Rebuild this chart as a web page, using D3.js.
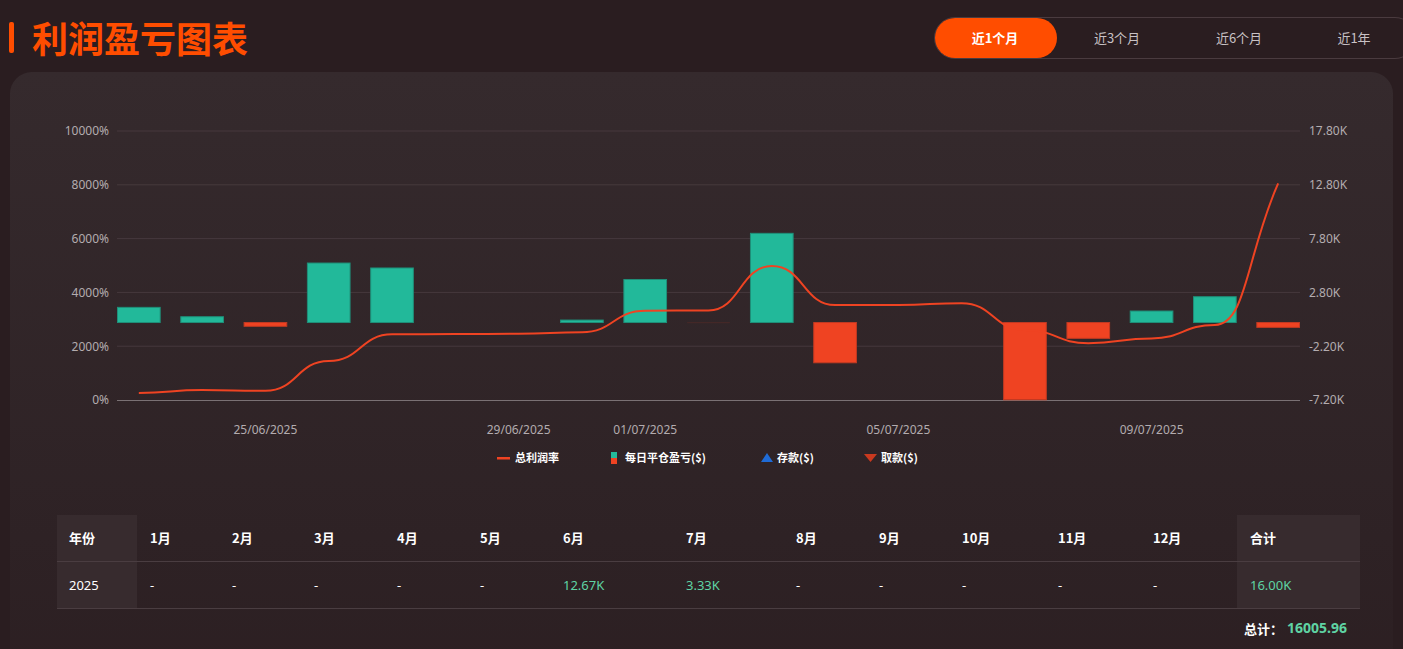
<!DOCTYPE html>
<html>
<head>
<meta charset="utf-8">
<script src="https://cdn.jsdelivr.net/npm/d3@7/dist/d3.min.js"></script>
<style>
  html, body { margin: 0; padding: 0; }
  body {
    width: 1403px; height: 649px; overflow: hidden; position: relative;
    background: #2a1d20;
    font-family: "Noto Sans", "Noto Sans CJK SC", sans-serif;
  }
  .card {
    position: absolute; left: 10px; top: 72px; width: 1383px; height: 620px;
    border-radius: 22px;
    background: linear-gradient(#352a2d, #2e2225 75%, #2c1f22);
  }
  .abs { position: absolute; white-space: nowrap; }
  #chart { position: absolute; left: 0; top: 0; }
</style>
</head>
<body>
<div class="card"></div>
<div id="page"></div>
<svg id="chart" width="1403" height="649"></svg>
<script>
// ---- data ----
const dates = ["23/06/2025", "24/06/2025", "25/06/2025", "26/06/2025", "27/06/2025", "28/06/2025",
  "29/06/2025", "30/06/2025", "01/07/2025", "02/07/2025", "03/07/2025", "04/07/2025", "05/07/2025",
  "06/07/2025", "07/07/2025", "08/07/2025", "09/07/2025", "10/07/2025", "11/07/2025"];
const profitRate = [260, 370, 340, 1450, 2440, 2450, 2460, 2520, 3320, 3330, 4980, 3530, 3530, 3600,
  2600, 2110, 2290, 2790, 8050];
const dailyPnl = [1410, 540, -350, 5530, 5070, 0, 0, 230, 4000, -10, 8290, -3740, 0, 0,
  -7180, -1470, 1070, 2400, -450];
const xTickLabels = ["25/06/2025", "29/06/2025", "01/07/2025", "05/07/2025", "09/07/2025"];
const leftTicks = [0, 2000, 4000, 6000, 8000, 10000];
const rightTicks = [-7200, -2200, 2800, 7800, 12800, 17800];
const legendItems = ["总利润率", "每日平仓盈亏($)", "存款($)", "取款($)"];
const tabs = ["近1个月", "近3个月", "近6个月", "近1年"];
const tableHead = ["年份", "1月", "2月", "3月", "4月", "5月", "6月", "7月", "8月", "9月", "10月", "11月", "12月", "合计"];
const tableRow = ["2025", "-", "-", "-", "-", "-", "12.67K", "3.33K", "-", "-", "-", "-", "-", "16.00K"];
const grandTotal = "16005.96";

const GREEN = "#22b99a", RED = "#ef4322", ORANGE = "#ff4d00";
const page = d3.select("#page");

// ---- title ----
page.append("div").attr("class", "abs")
  .style("left", "9px").style("top", "22px").style("width", "5px").style("height", "31px")
  .style("border-radius", "2px").style("background", ORANGE);
page.append("div").attr("class", "abs")
  .style("left", "32px").style("top", "11px")
  .style("font", "bold 36px 'Noto Sans CJK SC'").style("color", ORANGE)
  .text("利润盈亏图表");

// ---- tabs ----
page.append("div").attr("class", "abs")
  .style("left", "934px").style("top", "17px").style("width", "480px").style("height", "40px")
  .style("border", "1px solid #4a3b3f").style("border-radius", "21px");
page.append("div").attr("class", "abs")
  .style("left", "935px").style("top", "18px").style("width", "122px").style("height", "40px")
  .style("border-radius", "20px").style("background", ORANGE);
const tabX = [995, 1117, 1239, 1354];
tabs.forEach((t, i) => {
  page.append("div").attr("class", "abs")
    .style("left", (tabX[i] - 50) + "px").style("width", "100px").style("top", "28px")
    .style("text-align", "center")
    .style("font", (i === 0 ? "bold " : "") + "13px 'Noto Sans CJK SC'")
    .style("color", i === 0 ? "#ffffff" : "#c9c2c5")
    .text(t);
});

// ---- chart ----
const svg = d3.select("#chart");
const x0 = 117, x1 = 1300, yTop = 131, yBot = 400;
const x = d3.scaleBand().domain(dates).range([x0, x1]).paddingInner(0.31).paddingOuter(0);
const yL = d3.scaleLinear().domain([0, 10000]).range([yBot, yTop]);
const yR = d3.scaleLinear().domain([-7200, 17800]).range([yBot, yTop]);

// grid
svg.append("g").selectAll("line").data(leftTicks.slice(1)).join("line")
  .attr("x1", x0).attr("x2", x1).attr("y1", d => yL(d)).attr("y2", d => yL(d))
  .attr("stroke", "#46393d").attr("stroke-width", 1);

// left axis
const axL = svg.append("g").attr("transform", `translate(${x0},0)`)
  .call(d3.axisLeft(yL).tickValues(leftTicks).tickSize(0).tickPadding(8).tickFormat(d => d + "%"));
axL.select(".domain").remove();
// right axis
const axR = svg.append("g").attr("transform", `translate(${x1},0)`)
  .call(d3.axisRight(yR).tickValues(rightTicks).tickSize(0).tickPadding(9)
    .tickFormat(d => (d / 1000).toFixed(2) + "K"));
axR.select(".domain").remove();
// bottom axis
const axB = svg.append("g").attr("transform", `translate(0,${yBot})`)
  .call(d3.axisBottom(x).tickValues(xTickLabels).tickSize(0).tickPadding(25));
axB.select(".domain").attr("stroke", "#7a7174").attr("d", `M${x0},0.5H${x1}`);
svg.selectAll(".tick text").attr("fill", "#b3acaf").attr("font-size", 12)
  .attr("font-family", "'Noto Sans', 'Noto Sans CJK SC', sans-serif");

// bars
const bars = dates.map((d, i) => ({ d, v: dailyPnl[i] })).filter(b => b.v !== 0);
svg.append("g").selectAll("rect").data(bars).join("rect")
  .attr("x", b => x(b.d) + 0.5)
  .attr("width", x.bandwidth() - 1)
  .attr("y", b => yR(Math.max(0, b.v)))
  .attr("height", b => Math.max(0.6, Math.abs(yR(b.v) - yR(0))))
  .attr("fill", b => b.v > 0 ? GREEN : (b.v > -50 ? "#5a2a26" : RED))
  .attr("stroke", b => b.v > 0 ? "#1f8f79" : "#c23a22")
  .attr("stroke-width", b => Math.abs(b.v) < 50 ? 0 : 1);

// line: flat tangents at inner points, chord-direction tangent at the last point
const pts = profitRate.map((v, i) => [x(dates[i]) + x.bandwidth() / 2, yL(v)]);
const p = d3.path();
p.moveTo(pts[0][0], pts[0][1]);
for (let i = 1; i < pts.length; i++) {
  const [ax, ay] = pts[i - 1], [bx, by] = pts[i];
  const h = (bx - ax) / 2;
  if (i === pts.length - 1) {
    p.bezierCurveTo(ax + h, ay, (ax + bx) / 2, (ay + by) / 2, bx, by);
  } else {
    p.bezierCurveTo(ax + h, ay, bx - h, by, bx, by);
  }
}
svg.append("path").attr("d", p.toString())
  .attr("fill", "none").attr("stroke", RED).attr("stroke-width", 2);

// legend
const lg = svg.append("g").attr("font-family", "'Noto Sans CJK SC', sans-serif")
  .attr("font-size", 11).attr("font-weight", "bold").attr("fill", "#ffffff");
const ly = 458;
lg.append("rect").attr("x", 497).attr("y", ly - 1).attr("width", 13).attr("height", 2.5).attr("fill", RED);
lg.append("rect").attr("x", 611).attr("y", ly - 6).attr("width", 6).attr("height", 6).attr("fill", GREEN);
lg.append("rect").attr("x", 611).attr("y", ly).attr("width", 6).attr("height", 6).attr("fill", RED);
lg.append("path").attr("d", `M761,${ly + 4}L767,${ly - 5}L773,${ly + 4}Z`).attr("fill", "#1f6bd6");
lg.append("path").attr("d", `M864,${ly - 4}L877,${ly - 4}L870.5,${ly + 4}Z`).attr("fill", "#c9391f");
const legX = [515, 625, 777, 881];
legendItems.forEach((t, i) => {
  lg.append("text").attr("x", legX[i]).attr("y", ly + 4).text(t);
});

// ---- table ----
const colX = [69, 150, 232, 314, 397, 480, 563, 686, 796, 879, 962, 1058, 1153, 1250];
page.append("div").attr("class", "abs")
  .style("left", "57px").style("top", "515px").style("width", "80px").style("height", "94px")
  .style("background", "#372b2e");
page.append("div").attr("class", "abs")
  .style("left", "1237px").style("top", "515px").style("width", "123px").style("height", "94px")
  .style("background", "#372b2e");
[561, 608].forEach(y => {
  page.append("div").attr("class", "abs")
    .style("left", "57px").style("top", y + "px").style("width", "1303px").style("height", "1px")
    .style("background", "#4a3d41");
});
tableHead.forEach((t, i) => {
  page.append("div").attr("class", "abs")
    .style("left", colX[i] + "px").style("top", "528px")
    .style("font", "bold 13px 'Noto Sans CJK SC'").style("color", "#ffffff").text(t);
});
tableRow.forEach((t, i) => {
  page.append("div").attr("class", "abs")
    .style("left", colX[i] + "px").style("top", "576px")
    .style("font", "13px 'Noto Sans', 'Noto Sans CJK SC'")
    .style("color", i > 0 && t !== "-" ? "#5fd3a3" : "#ffffff").text(t);
});
page.append("div").attr("class", "abs")
  .style("left", "1244px").style("top", "619px")
  .style("font", "bold 13px 'Noto Sans CJK SC'").style("color", "#ffffff")
  .text("总计：");
page.append("div").attr("class", "abs")
  .style("left", "1287px").style("top", "618px")
  .style("font", "bold 14px 'Noto Sans'").style("color", "#5fd3a3")
  .text(grandTotal);
</script>
</body>
</html>
